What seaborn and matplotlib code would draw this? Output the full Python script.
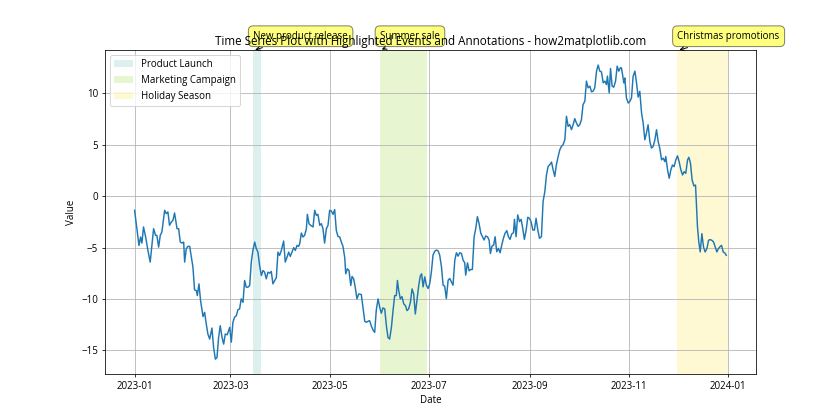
import matplotlib
matplotlib.use("Agg")
import matplotlib.pyplot as plt
import matplotlib.dates as mdates
import seaborn as sns
import pandas as pd
import numpy as np

plt.rcParams['font.family'] = ['Open Sans', 'DejaVu Sans']

# ---------------- data ----------------
start_date = "2023-01-01"
day_offsets = [
    0, 2.7, 3.7, 4.5, 5.5, 6.8, 8.2, 9.6, 11.7, 12.9, 13.7, 14.8, 15.8, 16.8, 18.5, 19.5,
    20.5, 21.5, 22.6, 23.6, 24.6, 26.1, 27.1, 28.1, 29.1, 30.2, 30.8, 31.8, 32.8, 33.9,
    34.9, 35.9, 36.9, 38.0, 38.6, 39.6, 40.6, 42.1, 43.1, 44.1, 45.1, 46.2, 47.6, 48.6,
    49.7, 50.7, 51.7, 52.7, 53.8, 54.8, 55.8,
    57.0, 58.5, 59.5, 60.5, 61.5, 62.6, 63.6, 64.6, 65.6, 66.7, 67.7, 68.7, 69.8, 70.8,
    71.8, 72.8, 73.9, 74.9, 75.9, 76.9, 78.0, 79.0, 80.0, 81.0, 82.1, 83.1, 84.1, 85.1,
    86.2, 87.2, 88.2, 89.2, 90.3, 91.7, 92.7, 93.8, 94.8, 95.8, 96.8, 97.9, 98.9, 99.9,
    100.9, 101.6, 102.6, 103.6, 104.6, 105.7, 106.3, 107.3, 108.3, 109.8, 110.8, 111.8,
    112.8, 113.9, 114.9, 115.9, 116.9,
    118.0, 119.0, 120.0, 121.0, 122.1, 123.1, 124.1, 125.1, 126.2, 127.2, 128.2, 129.3,
    129.9, 130.9, 131.9, 133.0, 133.8, 134.8, 135.8, 136.8, 137.9, 139.5, 140.5, 141.6,
    142.6, 143.6, 144.6, 145.7, 146.7, 147.7, 148.7, 149.8, 150.8, 151.8, 152.8, 153.9,
    154.9, 155.9, 156.9, 158.0, 159.0, 160.0, 161.0, 161.7, 162.5, 163.5, 164.5, 165.6,
    166.6, 167.6, 168.6, 169.7, 170.7, 171.7, 172.7, 173.8, 174.8,
    175.8, 176.6, 177.5, 178.5, 179.5, 180.6, 181.6, 182.6, 183.6, 184.7, 185.7, 186.7,
    187.7, 188.8, 189.8, 190.8, 191.8, 192.9, 193.9, 194.9, 195.9, 197.0, 198.0, 199.0,
    200.0, 201.1, 202.1, 203.1, 203.7, 204.8, 205.8, 206.8, 207.8, 208.9, 209.9, 210.9,
    211.9, 213.0, 214.0, 215.0, 216.0, 217.1, 218.1, 218.9, 219.9, 220.9, 221.8, 222.8,
    223.8, 224.9, 225.9, 226.9, 227.9, 229.0, 230.0, 231.0, 232.0, 233.1, 233.7, 234.7,
    235.7, 236.8, 237.8, 238.8, 239.8, 240.9, 241.9, 242.9, 243.9, 245.0, 246.0, 247.0,
    248.0, 249.1,
    250.3, 251.3, 252.4, 253.4, 254.4, 255.4, 256.5, 257.5, 258.5, 259.5, 260.6, 261.6,
    262.6, 263.6, 264.7, 265.7, 266.7, 267.7, 268.8, 269.8, 270.8, 271.8, 272.9, 273.9,
    274.9, 275.9, 277.0, 278.0, 279.0, 280.1, 281.1, 282.1, 283.1, 284.2, 285.2, 286.2,
    287.2, 288.3, 289.3, 290.3, 290.9, 292.0, 292.8, 293.8, 294.8, 295.9, 296.9, 297.9,
    298.9,
    299.5, 300.2, 301.0, 301.6, 302.6, 303.7, 304.7, 305.7, 306.7, 307.8, 308.8, 309.8,
    310.8, 311.9, 312.9, 313.9, 314.9, 315.9, 317.0, 318.0, 319.0, 320.1, 321.1, 322.1,
    323.1, 324.2, 325.2, 326.2, 326.8, 327.9, 328.9, 329.9, 330.9, 331.9, 333.0, 334.0,
    335.0, 336.1, 337.1, 338.1, 339.1, 340.2, 341.0, 342.0, 343.0, 344.1, 345.1, 345.7,
    346.3, 347.1, 348.0, 349.0, 350.0, 351.0, 352.1, 353.1, 354.1, 355.1, 356.2, 357.2,
    358.2, 359.2, 360.3, 361.1, 362.1, 363.1, 364.0,
]
values = [
    -1.37, -4.79, -3.97, -4.56, -2.99, -3.97, -5.27, -6.41, -3.16, -3.81, -3.81, -4.95, -3.81, -3.48, -1.37, -1.69,
    -1.53, -2.83, -2.51, -2.34, -1.63, -3.16, -3.16, -4.46, -4.56, -4.46, -6.41, -5.11, -4.88, -4.88,
    -5.92, -6.90, -9.11, -9.18, -9.67, -8.53, -10.16, -11.72, -11.30, -12.43, -13.41, -13.90, -12.83, -14.71,
    -15.85, -15.69, -13.74, -12.60, -13.74, -14.39, -13.41,
    -13.48, -12.76, -14.20, -12.27, -11.78, -11.62, -11.04, -10.97, -9.99, -10.32, -8.20, -8.85, -8.85, -8.69,
    -6.41, -5.27, -4.46, -5.11, -5.44, -6.74, -7.71, -7.23, -7.39, -8.04, -7.39, -7.49, -7.32, -8.53,
    -8.20, -7.94, -5.44, -5.76, -5.27, -4.36, -6.41, -5.92, -5.44, -5.86, -5.44, -5.01, -5.27, -4.79,
    -4.88, -4.62, -3.58, -3.97, -3.81, -3.16, -1.76, -2.67, -2.83, -2.99, -1.37, -1.86,
    -1.76, -2.83, -2.67, -3.16, -4.56,
    -3.16, -2.83, -1.37, -1.43, -1.76, -1.30, -3.32, -3.91, -3.97, -4.46, -4.88, -5.99,
    -7.55, -7.06, -7.23, -8.69, -7.81, -8.04, -8.92, -9.99, -9.51, -9.57, -10.81, -12.17,
    -12.27, -12.17, -12.11, -12.66, -13.02, -13.25, -11.07, -9.99, -10.81, -11.39, -10.87, -10.97,
    -12.60, -13.74, -13.90, -12.76, -11.13, -9.67, -9.67, -8.20, -9.18, -9.99, -9.77, -10.48,
    -10.64, -11.13, -10.97, -10.32, -9.02, -9.51, -11.46, -9.99, -8.69,
    -7.75, -7.55, -8.82, -7.85, -8.66, -8.98, -8.50, -7.36, -5.73, -5.34, -5.24, -5.31,
    -5.73, -6.87, -8.66, -8.76, -9.96, -8.17, -8.01, -8.33, -8.66, -6.22, -5.50, -5.83,
    -5.50, -5.57, -6.22, -6.48, -7.68, -6.48, -7.26, -7.13, -7.13, -3.94, -3.13, -1.99,
    -2.64, -3.61, -3.94, -4.26, -3.87, -3.94, -4.26, -5.57, -4.85, -4.75, -3.94, -5.40,
    -5.08, -5.50, -4.75, -4.10, -3.61, -3.35, -3.94, -4.20, -3.68, -3.55, -2.25, -3.94,
    -1.82, -2.47, -2.25, -3.13, -4.20, -3.29, -2.05, -2.15, -2.47, -3.29, -3.29, -2.15,
    -3.22, -4.10,
    -3.94, -0.52, 0.46, 2.08, 2.90, 3.06, 3.32, 2.57, 1.92, 3.06, 3.87, 4.52,
    4.85, 5.01, 5.50, 7.78, 6.80, 6.97, 6.48, 6.97, 7.55, 7.13, 6.80, 6.97,
    7.45, 8.92, 9.24, 11.20, 10.55, 10.71, 10.16, 10.22, 10.55, 12.17, 12.76, 12.17,
    12.11, 11.04, 11.20, 10.87, 11.69, 10.06, 12.43, 10.71, 10.61, 11.20, 12.66, 12.17,
    12.50,
    12.49, 11.84, 11.02, 11.51, 9.56, 9.07, 9.23, 9.56, 11.67, 12.17, 11.02, 9.65,
    10.21, 8.09, 7.11, 5.49, 6.14, 6.95, 5.33, 4.68, 4.84, 5.49, 6.47, 5.33,
    4.68, 3.54, 3.70, 3.37, 3.86, 2.55, 1.75, 2.55, 3.04, 2.88, 3.54, 3.93,
    3.37, 2.55, 2.07, 2.39, 2.23, 3.54, 3.79, 3.21, 1.58, 1.00, 1.09, -1.03,
    -2.98, -4.45, -5.42, -3.64, -4.94, -5.42, -5.10, -4.29, -4.22, -4.29, -4.45, -4.94,
    -5.42, -5.10, -4.88, -4.78, -5.42, -5.52, -5.75,
]

event_labels = ["Product Launch", "Marketing Campaign", "Holiday Season"]
event_starts = ["2023-03-15", "2023-06-01", "2023-12-01"]
event_ends = ["2023-03-20", "2023-06-30", "2024-01-01"]

annotation_texts = ["New product release", "Summer sale", "Christmas promotions"]
annotation_dates = ["2023-03-15", "2023-06-01", "2023-12-01"]

title = "Time Series Plot with Highlighted Events and Annotations - how2matplotlib.com"

# ---------------- styles ----------------
event_colors = ["#8dd3c7", "#b3de69", "#ffed6f"]

dates = pd.to_datetime(start_date) + pd.to_timedelta(np.array(day_offsets), unit="D")
df = pd.DataFrame({"Date": dates, "Value": values})

fig, ax = plt.subplots(figsize=(12, 6), dpi=70)
sns.lineplot(data=df, x="Date", y="Value", ax=ax, color="#1f77b4", linewidth=1.5)

for lab, s, e, c in zip(event_labels, event_starts, event_ends, event_colors):
    ax.axvspan(pd.to_datetime(s), pd.to_datetime(e), color=c, alpha=0.3, label=lab, linewidth=0)

ax.set_xlim(pd.to_datetime(start_date) - pd.Timedelta(days=18.2),
            pd.to_datetime(start_date) + pd.Timedelta(days=382.3))
ax.grid(True)
ax.xaxis.set_major_locator(mdates.MonthLocator(bymonth=[1, 3, 5, 7, 9, 11]))
ax.xaxis.set_major_formatter(mdates.DateFormatter("%Y-%m"))
ax.set_title(title, fontsize=12)
ax.set_xlabel("Date")
ax.set_ylabel("Value")
ax.legend(loc="upper left")

ytop = ax.get_ylim()[1]
for txt, d in zip(annotation_texts, annotation_dates):
    ax.annotate(txt, xy=(pd.to_datetime(d), ytop), xytext=(0, 12), textcoords="offset points",
                bbox=dict(boxstyle="round,pad=0.5", fc="yellow", alpha=0.5),
                arrowprops=dict(arrowstyle="->", connectionstyle="arc3,rad=0"))

fig.savefig("out.png", dpi=70)
